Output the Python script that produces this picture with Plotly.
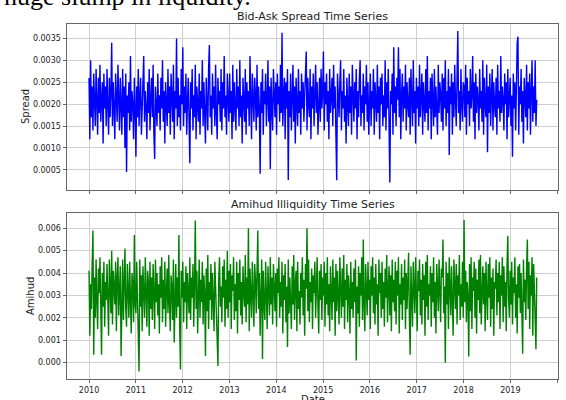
import numpy as np
import pandas as pd
import plotly.graph_objects as go

# Bid-ask spread values (x 1e-4), ~60 per year, 2010 to mid-2019
spread_e4 = [
    26, 12, 30, 17, 24, 14, 27, 19, 15, 28, 22, 13, 26, 18, 29, 16, 21, 25, 11, 27,
    19, 24, 15, 28, 20, 13, 26, 17, 23, 34, 15, 25, 19, 12, 27, 22, 16, 29, 18, 14,
    26, 21, 13, 28, 17, 24, 10, 27, 4.5, 22, 18, 25, 14, 31, 16, 23, 20, 12, 26, 19,
    8, 24, 17, 28, 15, 22, 26, 13, 20, 27, 31, 16, 23, 19, 12, 25, 18, 28, 14, 21,
    26, 17, 29, 13, 7.5, 24, 20, 15, 27, 18, 22, 14, 26, 19, 30, 16, 23, 11, 25, 20,
    15, 28, 18, 24, 13, 27, 21, 16, 29, 12, 23, 19, 35, 15, 26, 17, 22, 14, 28, 20,
    33, 15, 24, 18, 27, 13, 21, 26, 16, 6.5, 25, 19, 28, 14, 22, 17, 29, 12, 24, 20,
    16, 27, 13, 23, 19, 30, 15, 25, 18, 11, 26, 21, 14, 28, 33.5, 17, 22, 13, 27, 19,
    24, 15, 29, 18, 12, 26, 20, 23, 16, 28, 14, 25, 19, 31, 17, 22, 13, 27, 21, 16,
    27, 18, 23, 12, 29, 16, 25, 20, 14, 28, 19, 24, 15, 30, 17, 22, 11, 26, 21, 16,
    28, 13, 25, 19, 23, 15, 31, 18, 12, 27, 20, 16, 26, 22, 14, 29, 17, 24, 19, 4.1,
    25, 18, 28, 13, 23, 20, 27, 15, 21, 30, 16, 24, 5.2, 26, 19, 14, 28, 22, 17, 25,
    13, 27, 20, 24, 16, 29, 18, 36.3, 15, 22, 26, 12, 25, 19, 28, 2.7, 23, 17, 27, 14,
    21, 29, 16, 24, 11, 26, 20, 15, 28, 18, 23, 13, 27, 19, 25, 16, 22, 30, 32, 14,
    26, 20, 17, 28, 12, 24, 19, 27, 15, 22, 29, 18, 25, 13, 21, 26, 16, 28, 19, 23,
    32, 14, 25, 20, 27, 16, 23, 12, 28, 18, 22, 26, 15, 29, 19, 24, 13, 2.6, 27, 21,
    17, 25, 30, 14, 23, 19, 28, 16, 22, 11, 26, 20, 15, 27, 18, 24, 13, 29, 21, 16,
    25, 19, 28, 12, 23, 17, 26, 30, 15, 22, 18, 27, 14, 24, 20, 29, 16, 25, 13, 21,
    27, 15, 23, 19, 28, 13, 25, 21, 16, 29, 18, 24, 12, 26, 20, 27, 15, 22, 17, 30,
    14, 25, 19, 28, 16, 2.1, 23, 20, 27, 13, 33, 18, 24, 15, 26, 21, 33, 17, 28, 12,
    22, 27, 16, 24, 19, 29, 14, 25, 20, 17, 26, 13, 28, 21, 15, 30, 18, 23, 11, 26,
    19, 24, 15, 29, 17, 22, 27, 13, 25, 20, 16, 28, 18, 31, 14, 23, 19, 26, 12, 27,
    21, 15, 28, 17, 24, 20, 13, 29, 18, 25, 22, 16, 27, 14, 26, 19, 30, 15, 23, 18,
    28, 8.4, 24, 20, 27, 13, 25, 17, 29, 21, 15, 26, 36.7, 18, 23, 14, 28, 20, 16, 25,
    24, 17, 29, 13, 26, 20, 23, 15, 28, 19, 22, 31, 16, 25, 12, 27, 18, 24, 21, 14,
    28, 19, 23, 16, 30, 13, 26, 20, 17, 29, 9, 24, 18, 27, 15, 22, 28, 14, 25, 20,
    17, 26, 13, 29, 19, 23, 16, 31, 18, 24, 21, 14, 27, 20, 25, 12, 28, 17, 23, 26,
    15, 22, 8, 27, 19, 25, 14, 29, 34, 35.4, 13, 24, 20, 28, 16, 23, 11, 26, 21, 17,
    29, 14, 25, 19, 27, 13, 23, 30, 16, 24, 18, 30, 15, 21,
]

# Amihud illiquidity values (x 1e-4)
amihud_e4 = [
    41, 12, 35, 24, 44, 59, 3.5, 38, 20, 46, 27, 15, 42, 31, 47, 18, 3.5, 40, 25, 45,
    16, 36, 28, 44, 19, 12, 46, 30, 22, 50, 17, 41, 33, 26, 45, 14, 38, 47, 21, 34,
    43, 3, 29, 46, 19, 37, 51, 24, 16, 44, 31, 20, 45, 27, 13, 40, 35, 18, 57, 26,
    22, 45, 30, 18, -4, 46, 25, 39, 14, 43, 33, 20, 47, 28, 16, 41, 36, 12, 45, 24,
    38, 19, 44, 31, 15, 46, 27, 40, 21, 35, 13, 43, 29, 47, 18, 37, 24, 45, 16, 32,
    42, 22, 48, 26, 14, 39, 34, 19, 46, 9, 30, 44, 20, 38, 25, 57, 17, -3, 41, 29,
    45, 18, 36, 27, 43, 15, 40, 32, 22, 47, 19, 38, 29, 44, 16, 35, 63.4, 24, 41, 13,
    33, 46, 20, 37, 27, 45, 17, 39, 31, 3, 42, 23, 48, 15, 36, 28, 44, 19, 40, 26,
    14, 45, 30, 21, -0.2, -1.5, 38, 47, 25, 34, 18, 43, 29, 46, 16, 37, 24, 50, 20, 41,
    27, 44, 15, 39, 32, 47, 19, 35, 23, 45, 13, 40, 28, 46, 21, 36, 17, 43, 31, 25,
    48, 18, 38, 26, 60, 14, 42, 33, 20, 45, 29, 16, 44, 37, 22, 47, 59, 24, 40, 12,
    35, 46, 1.6, 41, 27, 19, 45, 30, 15, 43, 34, 21, 47, 26, 38, 17, 44, 29, 23, 40,
    16, 42, 31, 47, 20, 36, 25, 45, 13, 39, 28, 44, 18, 34, 7, 46, 22, 38, 30, 15,
    43, 26, 48, 19, 35, 41, 14, 45, 24, 32, 17, 40, 29, 47, 21, 37, 12, 44, 33, 60,
    23, 46, 18, 36, 27, 42, 15, 39, 31, 45, 20, 34, 47, 25, 13, 41, 28, 44, 19, 38,
    30, 45, 16, 40, 26, 47, 21, 35, 14, 43, 32, 19, 46, 27, 38, 12, 44, 23, 41, 29,
    17, 47, 33, 20, 42, 25, 48, 15, 37, 28, 44, 18, 39, 31, 13, 45, 24, 36, 20, 42,
    27, 46, 1, 34, 22, 43, 16, 40, 30, 47, 19, 55, 26, 14, 44, 33, 21, 45, 28, 37,
    15, 43, 30, 47, 22, 38, 17, 44, 26, 35, 12, 46, 31, 40, 20, 45, 24, 36, 16, 42,
    29, 48, 18, 33, 43, 21, 39, 14, 46, 27, 37, 23, 45, 17, 41, 30, 47, 13, 35, 26,
    44, 19, 38, 28, 46, 15, 40, 24, 33, 49, 20, 3.5, 43, 29, 16, 45, 35, 22, 47, 27,
    14, 41, 32, 46, 21, 37, 17, 44, 28, 39, 12, 45, 25, 48, 19, 35, 30, 43, 16, 40,
    27, 47, 20, 36, 13, 44, 31, 23, 46, 29, 18, 42, 38, 55, 22, 34, 0, 45, 26, 40,
    15, 47, 33, 21, 43, 28, 12, 46, 36, 24, 44, 17, 39, 30, 48, 19, 35, 25, 45, 20,
    63.7, 27, 41, 18, 36, 30, 2.7, 44, 23, 47, 15, 38, 32, 45, 20, 42, 13, 37, 28, 46,
    22, 48, 17, 35, 43, 26, 40, 14, 45, 31, 19, 44, 29, 47, 16, 38, 24, 42, 12, 36,
    33, 46, 21, 40, 27, 45, 15, 39, 30, 47, 18, 43, 25, 36, 14, 44, 56.6, 28, 20, 41,
    26, 45, 17, 38, 31, 47, 20, 35, 13, 43, 29, 44, 22, 40, 16, 4, 46, 27, 37, 19,
    42, 55, 24, 45, 15, 39, 30, 47, 12, 44, 33, 18, 6, 38,
]

dates = pd.date_range("2010-01-01", "2019-07-26", periods=len(spread_e4))
spread = np.array(spread_e4) * 1e-4
amihud = np.array(amihud_e4) * 1e-4

W, H = 566, 400
def px_x(x):
    return x / W
def px_y(y):
    return 1 - y / H

fig = go.Figure()
fig.add_trace(go.Scatter(x=dates, y=spread, mode="lines",
                         line=dict(color="#0000ff", width=1.4),
                         xaxis="x", yaxis="y", showlegend=False, hoverinfo="skip"))
fig.add_trace(go.Scatter(x=dates, y=amihud, mode="lines",
                         line=dict(color="#008000", width=1.4),
                         xaxis="x2", yaxis="y2", showlegend=False, hoverinfo="skip"))

tickfont = dict(family="DejaVu Sans", size=8, color="#222")
common_x = dict(type="date", range=["2009-07-13", "2020-01-08"],
                tick0="2010-01-01", dtick="M12", tickformat="%Y",
                showgrid=True, gridcolor="#cfcfcf", gridwidth=1,
                showline=True, linecolor="#666", linewidth=1, mirror=True,
                ticks="outside", ticklen=3, tickcolor="#666",
                tickfont=tickfont, zeroline=False,
                domain=[px_x(67), px_x(558)])
common_y = dict(showgrid=True, gridcolor="#cfcfcf", gridwidth=1,
                showline=True, linecolor="#666", linewidth=1, mirror=True,
                ticks="outside", ticklen=3.5, tickcolor="#666",
                tickfont=tickfont, zeroline=False)

fig.update_layout(
    width=W, height=H,
    margin=dict(l=0, r=0, t=0, b=0),
    paper_bgcolor="white", plot_bgcolor="white",
    xaxis=dict(**common_x, anchor="y", showticklabels=False),
    yaxis=dict(**common_y, anchor="x", domain=[px_y(190), px_y(24)],
               range=[0.00004, 0.00383], tickmode="array",
               tickvals=[0.0005, 0.0010, 0.0015, 0.0020, 0.0025, 0.0030, 0.0035],
               tickformat=".4f"),
    xaxis2=dict(**common_x, anchor="y2", showticklabels=True),
    yaxis2=dict(**common_y, anchor="x2", domain=[px_y(379), px_y(213)],
                range=[-0.00073, 0.00668], tickmode="array",
                tickvals=[0.000, 0.001, 0.002, 0.003, 0.004, 0.005, 0.006],
                tickformat=".3f"),
)

lab = dict(family="DejaVu Sans", size=10, color="#222")
ann = [
    dict(text="Bid-Ask Spread Time Series", x=px_x(312.5), y=px_y(16), xref="paper", yref="paper",
         showarrow=False, font=dict(family="DejaVu Sans", size=11, color="#222"), xanchor="center", yanchor="middle"),
    dict(text="Amihud Illiquidity Time Series", x=px_x(312.5), y=px_y(205), xref="paper", yref="paper",
         showarrow=False, font=dict(family="DejaVu Sans", size=11, color="#222"), xanchor="center", yanchor="middle"),
    dict(text="Date", x=px_x(312.5), y=px_y(399), xref="paper", yref="paper",
         showarrow=False, font=lab, xanchor="center", yanchor="middle"),
    dict(text="Spread", x=px_x(25), y=px_y(107), xref="paper", yref="paper", textangle=-90,
         showarrow=False, font=lab, xanchor="center", yanchor="middle"),
    dict(text="Amihud", x=px_x(30), y=px_y(296), xref="paper", yref="paper", textangle=-90,
         showarrow=False, font=lab, xanchor="center", yanchor="middle"),
    dict(text="huge slump in liquidity.", x=px_x(2), y=px_y(13), xref="paper", yref="paper",
         showarrow=False, font=dict(family="Liberation Serif", size=26, color="#000"),
         xanchor="left", yanchor="bottom"),
]
fig.update_layout(annotations=ann)

fig.write_html("out.html",
               config={"displayModeBar": False, "staticPlot": True},
               post_script="document.body.style.margin='0';document.body.style.overflow='hidden';")
